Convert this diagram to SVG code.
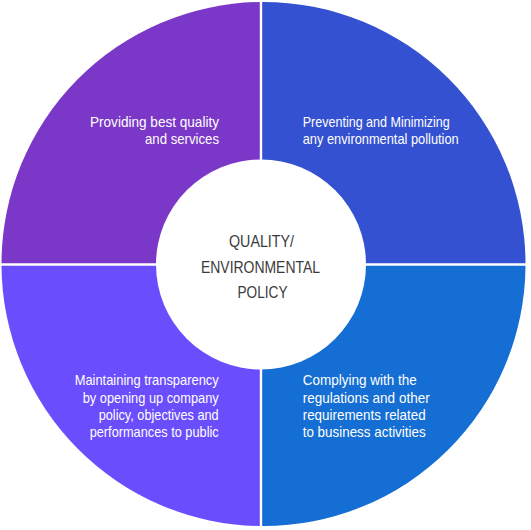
<svg xmlns="http://www.w3.org/2000/svg" width="531" height="530" viewBox="0 0 531 530">
<style>
.q{font-family:"Liberation Sans",Arial,sans-serif;font-size:15px;fill:#ffffff}
.c{font-family:"Liberation Sans",Arial,sans-serif;font-size:16.5px;fill:#3a3a3a;text-anchor:middle}
.r{text-anchor:end}
</style>
<rect width="531" height="530" fill="#ffffff"/>
<g id="node-quality">
<path d="M259.8,263.3 L259.8,2.03 A262,262 0 0 0 1.5,263.3 Z" fill="#7B37C7"/>
<text class="q r" x="219" y="126.7" textLength="129" lengthAdjust="spacingAndGlyphs">Providing best quality</text>
<text class="q r" x="219" y="144.3" textLength="74" lengthAdjust="spacingAndGlyphs">and services</text>
</g>
<g id="node-pollution">
<path d="M262.2,263.3 L262.2,2.0 A262,262 0 0 1 525.5,263.3 Z" fill="#3451D1"/>
<text class="q" x="302.7" y="126.7" textLength="147" lengthAdjust="spacingAndGlyphs">Preventing and Minimizing</text>
<text class="q" x="302.7" y="144.3" textLength="156" lengthAdjust="spacingAndGlyphs">any environmental pollution</text>
</g>
<g id="node-compliance">
<path d="M262.2,265.7 L525.5,265.7 A262,262 0 0 1 262.2,526 Z" fill="#146ED3"/>
<text class="q" x="302.7" y="385" textLength="114" lengthAdjust="spacingAndGlyphs">Complying with the</text>
<text class="q" x="302.7" y="402.7" textLength="127" lengthAdjust="spacingAndGlyphs">regulations and other</text>
<text class="q" x="302.7" y="420" textLength="123" lengthAdjust="spacingAndGlyphs">requirements related</text>
<text class="q" x="302.7" y="437.3" textLength="123" lengthAdjust="spacingAndGlyphs">to business activities</text>
</g>
<g id="node-transparency">
<path d="M259.8,265.7 L259.8,526 A262,262 0 0 1 1.5,265.7 Z" fill="#6A4DFC"/>
<text class="q r" x="218.7" y="385" textLength="144" lengthAdjust="spacingAndGlyphs">Maintaining transparency</text>
<text class="q r" x="218.7" y="402.7" textLength="136" lengthAdjust="spacingAndGlyphs">by opening up company</text>
<text class="q r" x="218.7" y="420" textLength="120" lengthAdjust="spacingAndGlyphs">policy, objectives and</text>
<text class="q r" x="218.7" y="437.3" textLength="129" lengthAdjust="spacingAndGlyphs">performances to public</text>
</g>
<g id="node-center">
<circle cx="261" cy="264.5" r="105" fill="#ffffff"/>
<text class="c" x="261.5" y="246.7" textLength="65" lengthAdjust="spacingAndGlyphs">QUALITY/</text>
<text class="c" x="260.5" y="272.7" textLength="119" lengthAdjust="spacingAndGlyphs">ENVIRONMENTAL</text>
<text class="c" x="262.5" y="297.7" textLength="50" lengthAdjust="spacingAndGlyphs">POLICY</text>
</g>
<g id="connectors"></g>
</svg>
